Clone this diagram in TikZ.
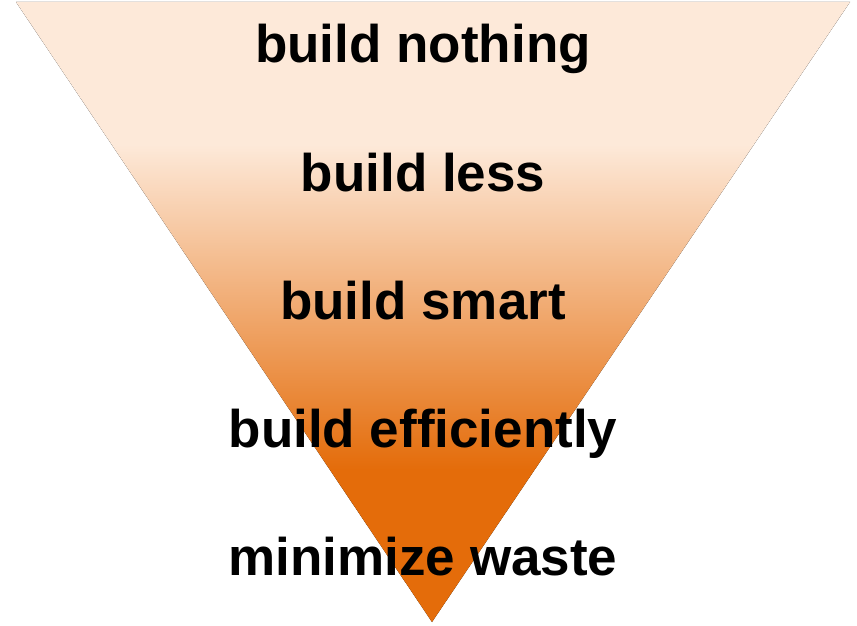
\documentclass[tikz,border=0pt]{standalone}
\usepackage{fontspec}
\setmainfont{Liberation Sans}
\definecolor{peach}{HTML}{FDE9D9}
\definecolor{deepor}{HTML}{E46C0A}
\pgfdeclareverticalshading{funnel}{100bp}{color(0bp)=(deepor); color(37.3bp)=(deepor); color(63.5bp)=(peach); color(100bp)=(peach)}
\tikzset{lbl/.style={anchor=base, inner sep=0pt, font=\fontsize{53}{60}\selectfont\bfseries, text=black}}
\begin{document}
\begin{tikzpicture}[x=1pt,y=-1pt]
\useasboundingbox (0,0) rectangle (857,626);
\coordinate (tl) at (16,2);
\coordinate (tr) at (850,2);
\coordinate (ap) at (432,622);
\fill[shading=funnel] (tl) -- (tr) -- (ap) -- cycle;
\node[lbl] (t1) at (423,63) {build nothing};
\node[lbl] (t2) at (423,191) {build less};
\node[lbl] (t3) at (423,319) {build smart};
\node[lbl] (t4) at (423,447) {build efficiently};
\node[lbl] (t5) at (423,575) {minimize waste};
\end{tikzpicture}
\end{document}
